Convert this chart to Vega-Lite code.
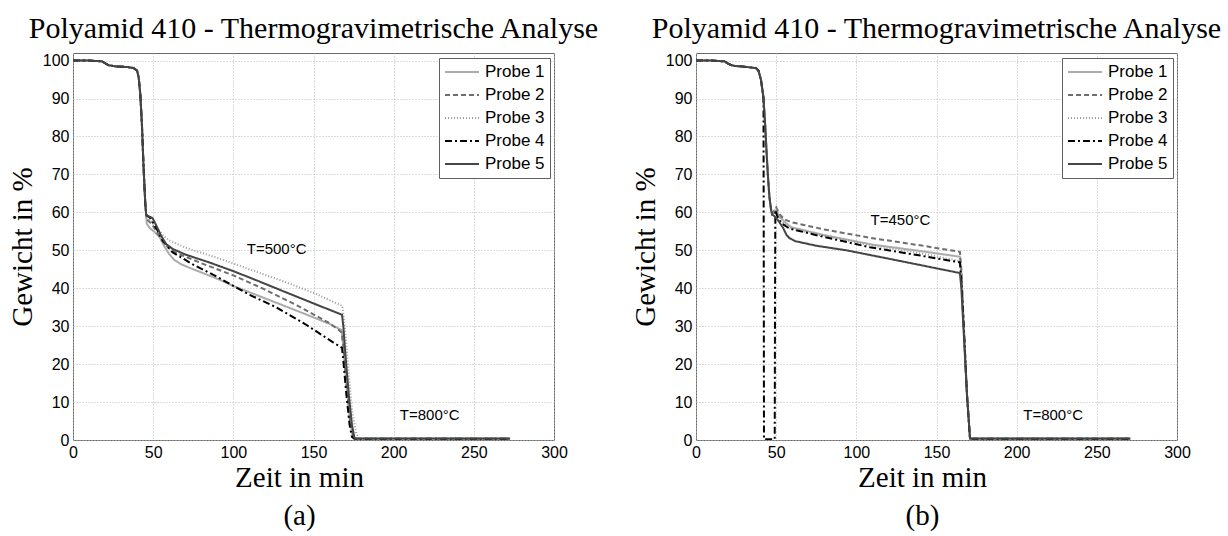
{
  "$schema": "https://vega.github.io/schema/vega-lite/v6.json",
  "background": "white",
  "padding": {"left": 7, "top": 13, "right": 0, "bottom": 0},
  "bounds": "flush",
  "spacing": 142,
  "resolve": {
    "scale": {"x": "independent", "y": "independent", "stroke": "independent", "strokeDash": "independent", "strokeWidth": "independent"},
    "legend": {"stroke": "independent", "strokeDash": "independent", "strokeWidth": "independent"}
  },
  "config": {
    "font": "Liberation Sans",
    "view": {"stroke": "#6a6a6a", "strokeWidth": 1},
    "axis": {
      "domain": false, "ticks": false, "grid": true,
      "gridColor": "#b8b8b8", "gridDash": [1, 2], "gridWidth": 1,
      "labelFont": "Liberation Sans", "labelFontSize": 16, "labelColor": "#000", "labelFlush": false,
      "titleFont": "Liberation Serif", "titleFontSize": 29, "titleFontWeight": "normal", "titleColor": "#000"
    },
    "axisX": {"labelPadding": 4, "titlePadding": 3, "titleLineHeight": 38, "titleX": 226},
    "axisY": {"labelPadding": 4, "titlePadding": 5},
    "title": {"font": "Liberation Serif", "fontSize": 30, "fontWeight": "normal", "color": "#000", "anchor": "middle", "frame": "group", "baseline": "alphabetic", "offset": 9},
    "legend": {
      "orient": "none", "legendX": 366, "legendY": 5, "padding": 5,
      "strokeColor": "#606060", "fillColor": "white",
      "labelFont": "Liberation Sans", "labelFontSize": 17, "labelColor": "#000", "labelOffset": 5,
      "symbolType": "stroke", "symbolSize": 1156, "clipHeight": 18, "rowPadding": 5
    }
  },
  "datasets": {
    "a": [
      {"p":"Probe 1","t":0,"w":100},{"p":"Probe 1","t":10,"w":100},{"p":"Probe 1","t":18,"w":99.8},{"p":"Probe 1","t":20,"w":99.3},{"p":"Probe 1","t":22,"w":98.8},{"p":"Probe 1","t":26,"w":98.5},{"p":"Probe 1","t":34,"w":98.3},{"p":"Probe 1","t":38,"w":98},{"p":"Probe 1","t":40,"w":97.3},{"p":"Probe 1","t":41,"w":95.5},{"p":"Probe 1","t":42,"w":91},{"p":"Probe 1","t":43,"w":83},{"p":"Probe 1","t":44,"w":72},{"p":"Probe 1","t":45,"w":63},{"p":"Probe 1","t":45.6,"w":59.5},
      {"p":"Probe 1","t":46,"w":57},{"p":"Probe 1","t":48,"w":55.8},{"p":"Probe 1","t":51,"w":54.8},{"p":"Probe 1","t":54,"w":53.5},{"p":"Probe 1","t":57,"w":51},{"p":"Probe 1","t":60,"w":49},{"p":"Probe 1","t":63,"w":47.5},{"p":"Probe 1","t":68,"w":46.2},{"p":"Probe 1","t":75,"w":45},{"p":"Probe 1","t":90,"w":42.5},{"p":"Probe 1","t":100,"w":40.6},{"p":"Probe 1","t":120,"w":37.3},{"p":"Probe 1","t":140,"w":34},{"p":"Probe 1","t":160,"w":30.6},{"p":"Probe 1","t":167.5,"w":29},{"p":"Probe 1","t":168.8,"w":24},{"p":"Probe 1","t":170.5,"w":15},{"p":"Probe 1","t":172.5,"w":6},{"p":"Probe 1","t":174.5,"w":1},{"p":"Probe 1","t":176,"w":0.3},{"p":"Probe 1","t":272.5,"w":0.3},

      {"p":"Probe 2","t":0,"w":100},{"p":"Probe 2","t":10,"w":100},{"p":"Probe 2","t":18,"w":99.8},{"p":"Probe 2","t":20,"w":99.3},{"p":"Probe 2","t":22,"w":98.8},{"p":"Probe 2","t":26,"w":98.5},{"p":"Probe 2","t":34,"w":98.3},{"p":"Probe 2","t":38,"w":98},{"p":"Probe 2","t":40,"w":97.3},{"p":"Probe 2","t":41,"w":95.5},{"p":"Probe 2","t":42,"w":91},{"p":"Probe 2","t":43,"w":83},{"p":"Probe 2","t":44,"w":72},{"p":"Probe 2","t":45,"w":63},{"p":"Probe 2","t":45.6,"w":59.5},
      {"p":"Probe 2","t":46,"w":58.2},{"p":"Probe 2","t":49,"w":57},{"p":"Probe 2","t":52,"w":55},{"p":"Probe 2","t":56,"w":52.3},{"p":"Probe 2","t":60,"w":50.5},{"p":"Probe 2","t":65,"w":49.2},{"p":"Probe 2","t":80,"w":46.6},{"p":"Probe 2","t":100,"w":43.4},{"p":"Probe 2","t":120,"w":39.6},{"p":"Probe 2","t":140,"w":35.4},{"p":"Probe 2","t":160,"w":30.8},{"p":"Probe 2","t":167.5,"w":28.4},{"p":"Probe 2","t":168.8,"w":24},{"p":"Probe 2","t":170.5,"w":15},{"p":"Probe 2","t":172.5,"w":6},{"p":"Probe 2","t":174.8,"w":1},{"p":"Probe 2","t":176.5,"w":0.3},{"p":"Probe 2","t":272.5,"w":0.3},

      {"p":"Probe 3","t":0,"w":100},{"p":"Probe 3","t":10,"w":100},{"p":"Probe 3","t":18,"w":99.8},{"p":"Probe 3","t":20,"w":99.3},{"p":"Probe 3","t":22,"w":98.8},{"p":"Probe 3","t":26,"w":98.5},{"p":"Probe 3","t":34,"w":98.3},{"p":"Probe 3","t":38,"w":98},{"p":"Probe 3","t":40,"w":97.3},{"p":"Probe 3","t":41,"w":95.5},{"p":"Probe 3","t":42,"w":91},{"p":"Probe 3","t":43,"w":83},{"p":"Probe 3","t":44,"w":72},{"p":"Probe 3","t":45,"w":63},{"p":"Probe 3","t":45.6,"w":59.5},
      {"p":"Probe 3","t":46,"w":58.6},{"p":"Probe 3","t":49,"w":57.5},{"p":"Probe 3","t":52,"w":56},{"p":"Probe 3","t":56,"w":54},{"p":"Probe 3","t":60,"w":52.6},{"p":"Probe 3","t":70,"w":50.7},{"p":"Probe 3","t":90,"w":48},{"p":"Probe 3","t":110,"w":45},{"p":"Probe 3","t":130,"w":42},{"p":"Probe 3","t":150,"w":38.8},{"p":"Probe 3","t":168,"w":35.3},{"p":"Probe 3","t":169.5,"w":30},{"p":"Probe 3","t":171.5,"w":20},{"p":"Probe 3","t":174,"w":8},{"p":"Probe 3","t":176.5,"w":2},{"p":"Probe 3","t":178.5,"w":0.3},{"p":"Probe 3","t":272.5,"w":0.3},

      {"p":"Probe 4","t":0,"w":100},{"p":"Probe 4","t":10,"w":100},{"p":"Probe 4","t":18,"w":99.8},{"p":"Probe 4","t":20,"w":99.3},{"p":"Probe 4","t":22,"w":98.8},{"p":"Probe 4","t":26,"w":98.5},{"p":"Probe 4","t":34,"w":98.3},{"p":"Probe 4","t":38,"w":98},{"p":"Probe 4","t":40,"w":97.3},{"p":"Probe 4","t":41,"w":95.5},{"p":"Probe 4","t":42,"w":91},{"p":"Probe 4","t":43,"w":83},{"p":"Probe 4","t":44,"w":72},{"p":"Probe 4","t":45,"w":63},{"p":"Probe 4","t":45.6,"w":59.5},
      {"p":"Probe 4","t":46,"w":59.2},{"p":"Probe 4","t":48,"w":58.6},{"p":"Probe 4","t":50,"w":57.2},{"p":"Probe 4","t":53,"w":55},{"p":"Probe 4","t":56,"w":52.5},{"p":"Probe 4","t":62,"w":49.5},{"p":"Probe 4","t":75,"w":46.2},{"p":"Probe 4","t":90,"w":43},{"p":"Probe 4","t":100,"w":40.6},{"p":"Probe 4","t":110,"w":38.3},{"p":"Probe 4","t":126.6,"w":35},{"p":"Probe 4","t":145,"w":30.5},{"p":"Probe 4","t":162,"w":25.8},{"p":"Probe 4","t":167.8,"w":24.3},{"p":"Probe 4","t":168.8,"w":20},{"p":"Probe 4","t":170.5,"w":12},{"p":"Probe 4","t":172.5,"w":4},{"p":"Probe 4","t":174,"w":0.8},{"p":"Probe 4","t":175.5,"w":0.3},{"p":"Probe 4","t":272.5,"w":0.3},

      {"p":"Probe 5","t":0,"w":100},{"p":"Probe 5","t":10,"w":100},{"p":"Probe 5","t":18,"w":99.8},{"p":"Probe 5","t":20,"w":99.3},{"p":"Probe 5","t":22,"w":98.8},{"p":"Probe 5","t":26,"w":98.5},{"p":"Probe 5","t":34,"w":98.3},{"p":"Probe 5","t":38,"w":98},{"p":"Probe 5","t":40,"w":97.3},{"p":"Probe 5","t":41,"w":95.5},{"p":"Probe 5","t":42,"w":91},{"p":"Probe 5","t":43,"w":83},{"p":"Probe 5","t":44,"w":72},{"p":"Probe 5","t":45,"w":63},{"p":"Probe 5","t":45.6,"w":59.5},
      {"p":"Probe 5","t":46,"w":59.2},{"p":"Probe 5","t":49.6,"w":58.5},{"p":"Probe 5","t":52,"w":56.5},{"p":"Probe 5","t":55,"w":53.8},{"p":"Probe 5","t":58,"w":51.7},{"p":"Probe 5","t":62,"w":50.4},{"p":"Probe 5","t":70,"w":48.9},{"p":"Probe 5","t":85,"w":46.8},{"p":"Probe 5","t":100,"w":44.5},{"p":"Probe 5","t":115,"w":42},{"p":"Probe 5","t":130,"w":39.4},{"p":"Probe 5","t":150,"w":36},{"p":"Probe 5","t":167.8,"w":33},{"p":"Probe 5","t":168.6,"w":30},{"p":"Probe 5","t":170,"w":22},{"p":"Probe 5","t":172,"w":12},{"p":"Probe 5","t":174,"w":4},{"p":"Probe 5","t":175.6,"w":0.4},{"p":"Probe 5","t":272.5,"w":0.4}
    ],
    "b": [
      {"p":"Probe 1","t":0,"w":100},{"p":"Probe 1","t":10,"w":100},{"p":"Probe 1","t":17.7,"w":99.8},{"p":"Probe 1","t":20,"w":99.2},{"p":"Probe 1","t":22,"w":98.8},{"p":"Probe 1","t":24,"w":98.6},{"p":"Probe 1","t":30,"w":98.4},{"p":"Probe 1","t":37.5,"w":98},{"p":"Probe 1","t":39,"w":97.3},{"p":"Probe 1","t":40.5,"w":95},{"p":"Probe 1","t":41.5,"w":92},{"p":"Probe 1","t":42.1,"w":90},{"p":"Probe 1","t":43,"w":84},{"p":"Probe 1","t":44,"w":76},{"p":"Probe 1","t":44.8,"w":70},{"p":"Probe 1","t":45.8,"w":64},{"p":"Probe 1","t":46.9,"w":60.5},{"p":"Probe 1","t":47.5,"w":59.6},
      {"p":"Probe 1","t":50,"w":60.3},{"p":"Probe 1","t":53,"w":58.5},{"p":"Probe 1","t":56,"w":57.2},{"p":"Probe 1","t":59.4,"w":56.1},{"p":"Probe 1","t":80,"w":54},{"p":"Probe 1","t":110,"w":51.5},{"p":"Probe 1","t":140,"w":49.8},{"p":"Probe 1","t":164.6,"w":48.3},{"p":"Probe 1","t":165.5,"w":44},{"p":"Probe 1","t":167,"w":30},{"p":"Probe 1","t":169,"w":12},{"p":"Probe 1","t":170.9,"w":0.3},{"p":"Probe 1","t":270.9,"w":0.3},

      {"p":"Probe 2","t":0,"w":100},{"p":"Probe 2","t":10,"w":100},{"p":"Probe 2","t":17.7,"w":99.8},{"p":"Probe 2","t":20,"w":99.2},{"p":"Probe 2","t":22,"w":98.8},{"p":"Probe 2","t":24,"w":98.6},{"p":"Probe 2","t":30,"w":98.4},{"p":"Probe 2","t":37.5,"w":98},{"p":"Probe 2","t":39,"w":97.3},{"p":"Probe 2","t":40.5,"w":95},{"p":"Probe 2","t":41.5,"w":92},{"p":"Probe 2","t":42.1,"w":90},{"p":"Probe 2","t":43,"w":84},{"p":"Probe 2","t":44,"w":76},{"p":"Probe 2","t":44.8,"w":70},{"p":"Probe 2","t":45.8,"w":64},{"p":"Probe 2","t":46.9,"w":60.5},{"p":"Probe 2","t":47.5,"w":59.6},
      {"p":"Probe 2","t":50,"w":61.3},{"p":"Probe 2","t":52.1,"w":59.5},{"p":"Probe 2","t":55,"w":58.2},{"p":"Probe 2","t":59.4,"w":57.4},{"p":"Probe 2","t":80,"w":55.5},{"p":"Probe 2","t":108.4,"w":53.3},{"p":"Probe 2","t":140,"w":51.3},{"p":"Probe 2","t":164.6,"w":49.6},{"p":"Probe 2","t":165.5,"w":45},{"p":"Probe 2","t":167,"w":30},{"p":"Probe 2","t":169,"w":12},{"p":"Probe 2","t":170.9,"w":0.3},{"p":"Probe 2","t":270.9,"w":0.3},

      {"p":"Probe 3","t":0,"w":100},{"p":"Probe 3","t":10,"w":100},{"p":"Probe 3","t":17.7,"w":99.8},{"p":"Probe 3","t":20,"w":99.2},{"p":"Probe 3","t":22,"w":98.8},{"p":"Probe 3","t":24,"w":98.6},{"p":"Probe 3","t":30,"w":98.4},{"p":"Probe 3","t":37.5,"w":98},{"p":"Probe 3","t":39,"w":97.3},{"p":"Probe 3","t":40.5,"w":95},{"p":"Probe 3","t":41.5,"w":92},{"p":"Probe 3","t":42.1,"w":90},{"p":"Probe 3","t":43,"w":84},{"p":"Probe 3","t":44,"w":76},{"p":"Probe 3","t":44.8,"w":70},{"p":"Probe 3","t":45.8,"w":64},{"p":"Probe 3","t":46.9,"w":60.5},{"p":"Probe 3","t":47.5,"w":59.6},
      {"p":"Probe 3","t":50,"w":61},{"p":"Probe 3","t":53,"w":57.8},{"p":"Probe 3","t":56,"w":56.5},{"p":"Probe 3","t":59.4,"w":55.7},{"p":"Probe 3","t":80,"w":53.8},{"p":"Probe 3","t":110,"w":51.2},{"p":"Probe 3","t":140,"w":49.2},{"p":"Probe 3","t":164.6,"w":47.2},{"p":"Probe 3","t":165.5,"w":43},{"p":"Probe 3","t":167,"w":30},{"p":"Probe 3","t":169,"w":12},{"p":"Probe 3","t":171.1,"w":0.3},{"p":"Probe 3","t":270.9,"w":0.3},

      {"p":"Probe 4","t":0,"w":100},{"p":"Probe 4","t":10,"w":100},{"p":"Probe 4","t":17.7,"w":99.8},{"p":"Probe 4","t":20,"w":99.2},{"p":"Probe 4","t":22,"w":98.8},{"p":"Probe 4","t":24,"w":98.6},{"p":"Probe 4","t":30,"w":98.4},{"p":"Probe 4","t":37.5,"w":98},{"p":"Probe 4","t":39,"w":97.3},{"p":"Probe 4","t":40.5,"w":95},{"p":"Probe 4","t":41.5,"w":92},{"p":"Probe 4","t":42.1,"w":90},
      {"p":"Probe 4","t":42.25,"w":50},{"p":"Probe 4","t":42.4,"w":0.2},{"p":"Probe 4","t":49.1,"w":0.2},{"p":"Probe 4","t":49.3,"w":40},{"p":"Probe 4","t":49.5,"w":60.6},{"p":"Probe 4","t":50.5,"w":59.2},{"p":"Probe 4","t":53,"w":57.2},{"p":"Probe 4","t":58.4,"w":55.7},{"p":"Probe 4","t":80,"w":53.5},{"p":"Probe 4","t":108.4,"w":50.8},{"p":"Probe 4","t":140,"w":48.6},{"p":"Probe 4","t":164.6,"w":46.8},{"p":"Probe 4","t":165.5,"w":42},{"p":"Probe 4","t":167,"w":30},{"p":"Probe 4","t":169,"w":12},{"p":"Probe 4","t":170.9,"w":0.3},{"p":"Probe 4","t":270.9,"w":0.3},

      {"p":"Probe 5","t":0,"w":100},{"p":"Probe 5","t":10,"w":100},{"p":"Probe 5","t":17.7,"w":99.8},{"p":"Probe 5","t":20,"w":99.2},{"p":"Probe 5","t":22,"w":98.8},{"p":"Probe 5","t":24,"w":98.6},{"p":"Probe 5","t":30,"w":98.4},{"p":"Probe 5","t":37.5,"w":98},{"p":"Probe 5","t":39,"w":97.3},{"p":"Probe 5","t":40.5,"w":95},{"p":"Probe 5","t":41.5,"w":92},{"p":"Probe 5","t":42.1,"w":90},{"p":"Probe 5","t":43,"w":84},{"p":"Probe 5","t":44,"w":76},{"p":"Probe 5","t":44.8,"w":70},{"p":"Probe 5","t":45.8,"w":64},{"p":"Probe 5","t":46.9,"w":60.5},{"p":"Probe 5","t":47.5,"w":59.4},
      {"p":"Probe 5","t":49,"w":59},{"p":"Probe 5","t":51,"w":58},{"p":"Probe 5","t":54.2,"w":56},{"p":"Probe 5","t":56.5,"w":54},{"p":"Probe 5","t":58.3,"w":53.2},{"p":"Probe 5","t":62,"w":52.4},{"p":"Probe 5","t":75,"w":51.2},{"p":"Probe 5","t":93.75,"w":50},{"p":"Probe 5","t":120,"w":47.8},{"p":"Probe 5","t":140,"w":46.1},{"p":"Probe 5","t":164.6,"w":44},{"p":"Probe 5","t":165.5,"w":40},{"p":"Probe 5","t":167,"w":28},{"p":"Probe 5","t":169,"w":12},{"p":"Probe 5","t":170.9,"w":0.4},{"p":"Probe 5","t":270.9,"w":0.4}
    ],
    "notesA": [
      {"t": 127, "w": 50.4, "label": "T=500°C"},
      {"t": 222.5, "w": 6.5, "label": "T=800°C"}
    ],
    "notesB": [
      {"t": 127.5, "w": 57.9, "label": "T=450°C"},
      {"t": 222.75, "w": 6.5, "label": "T=800°C"}
    ]
  },
  "hconcat": [
    {
      "width": 481, "height": 387,
      "title": {"text": "Polyamid 410 - Thermogravimetrische Analyse"},
      "encoding": {
        "x": {"field": "t", "type": "quantitative", "scale": {"domain": [0, 300], "nice": false}, "axis": {"values": [0, 50, 100, 150, 200, 250, 300], "title": ["Zeit in min", "(a)"]}},
        "y": {"field": "w", "type": "quantitative", "scale": {"domain": [0, 102], "nice": false}, "axis": {"values": [0, 10, 20, 30, 40, 50, 60, 70, 80, 90, 100], "title": "Gewicht in %"}}
      },
      "layer": [
        {
          "data": {"name": "a"},
          "mark": {"type": "line", "clip": true},
          "encoding": {
            "stroke": {"field": "p", "type": "nominal", "scale": {"domain": ["Probe 1", "Probe 2", "Probe 3", "Probe 4", "Probe 5"], "range": ["#ababab", "#6e6e6e", "#9a9a9a", "#000000", "#454545"]}, "legend": {"title": null}},
            "strokeDash": {"field": "p", "type": "nominal", "scale": {"domain": ["Probe 1", "Probe 2", "Probe 3", "Probe 4", "Probe 5"], "range": [[1, 0], [5, 3], [1, 2], [7, 3, 2, 3], [1, 0]]}, "legend": {"title": null}},
            "strokeWidth": {"field": "p", "type": "nominal", "scale": {"domain": ["Probe 1", "Probe 2", "Probe 3", "Probe 4", "Probe 5"], "range": [2, 2, 1.2, 2, 2.2]}, "legend": {"title": null}}
          }
        },
        {
          "data": {"name": "notesA"},
          "mark": {"type": "text", "font": "Liberation Sans", "fontSize": 15, "color": "#000", "align": "center", "baseline": "middle"},
          "encoding": {"text": {"field": "label"}}
        }
      ]
    },
    {
      "width": 481, "height": 387,
      "title": {"text": "Polyamid 410 - Thermogravimetrische Analyse"},
      "encoding": {
        "x": {"field": "t", "type": "quantitative", "scale": {"domain": [0, 300], "nice": false}, "axis": {"values": [0, 50, 100, 150, 200, 250, 300], "title": ["Zeit in min", "(b)"]}},
        "y": {"field": "w", "type": "quantitative", "scale": {"domain": [0, 102], "nice": false}, "axis": {"values": [0, 10, 20, 30, 40, 50, 60, 70, 80, 90, 100], "title": "Gewicht in %"}}
      },
      "layer": [
        {
          "data": {"name": "b"},
          "mark": {"type": "line", "clip": true},
          "encoding": {
            "stroke": {"field": "p", "type": "nominal", "scale": {"domain": ["Probe 1", "Probe 2", "Probe 3", "Probe 4", "Probe 5"], "range": ["#ababab", "#6e6e6e", "#9a9a9a", "#000000", "#454545"]}, "legend": {"title": null}},
            "strokeDash": {"field": "p", "type": "nominal", "scale": {"domain": ["Probe 1", "Probe 2", "Probe 3", "Probe 4", "Probe 5"], "range": [[1, 0], [5, 3], [1, 2], [7, 3, 2, 3], [1, 0]]}, "legend": {"title": null}},
            "strokeWidth": {"field": "p", "type": "nominal", "scale": {"domain": ["Probe 1", "Probe 2", "Probe 3", "Probe 4", "Probe 5"], "range": [2, 2, 1.2, 2, 2.2]}, "legend": {"title": null}}
          }
        },
        {
          "data": {"name": "notesB"},
          "mark": {"type": "text", "font": "Liberation Sans", "fontSize": 15, "color": "#000", "align": "center", "baseline": "middle"},
          "encoding": {"text": {"field": "label"}}
        }
      ]
    }
  ]
}
